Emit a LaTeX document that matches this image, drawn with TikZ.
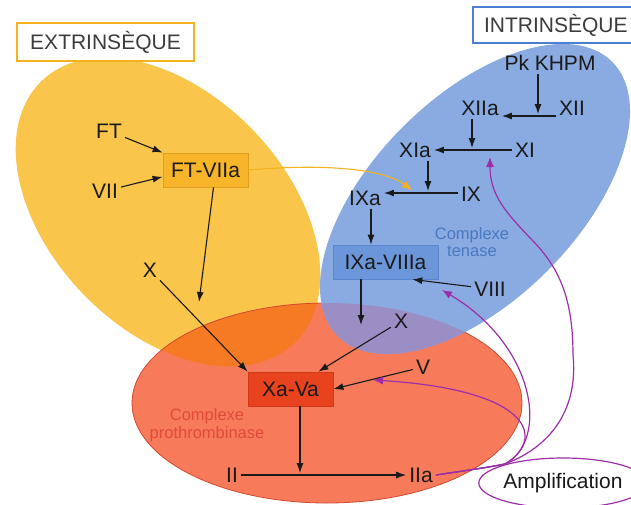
\documentclass[tikz,border=0pt]{standalone}
\usepackage{fontspec}
\setmainfont{Liberation Sans}
\usetikzlibrary{arrows.meta,shapes.geometric}

\definecolor{ylw}{HTML}{F9C54A}
\definecolor{redc}{HTML}{F77B5B}
\definecolor{orangeov}{HTML}{F67A24}
\definecolor{bluec}{HTML}{8AABE1}
\definecolor{purpov}{HTML}{9A8EC4}
\definecolor{redborder}{HTML}{D04A30}
\definecolor{ftfill}{HTML}{F8B52A}
\definecolor{ftdraw}{HTML}{E09E1E}
\definecolor{xafill}{HTML}{E8421F}
\definecolor{xadraw}{HTML}{D03818}
\definecolor{ixfill}{HTML}{6C96DA}
\definecolor{ixdraw}{HTML}{5A86D0}
\definecolor{tenasec}{HTML}{4A78C0}
\definecolor{prothc}{HTML}{E04A3A}
\definecolor{purparr}{HTML}{9C2FA8}
\definecolor{yarrc}{HTML}{F2B21E}
\definecolor{extrc}{HTML}{F6B21C}
\definecolor{intrc}{HTML}{4A7FD4}
\definecolor{ink}{HTML}{1A1A1A}

\begin{document}
\begin{tikzpicture}[x=1pt,y=-1pt,
  lbl/.style={font=\fontsize{21}{25}\selectfont, text=ink, inner sep=3pt},
  small/.style={font=\fontsize{16.5}{17.5}\selectfont, align=center, inner sep=0pt},
  cbox/.style={lbl, minimum height=34pt, inner sep=0pt, line width=0.8pt},
  arr/.style={draw=ink, line width=1.1pt, -{Latex[length=10pt,width=7pt]}},
  yarr/.style={draw=yarrc, line width=1.1pt, -{Latex[length=10pt,width=8pt]}},
  parr/.style={draw=purparr, line width=1.2pt, -{Latex[length=10pt,width=8pt]}},
  title/.style={font=\fontsize{21}{25}\selectfont, text=ink!85, fill=white, line width=2.5pt, inner sep=0pt}
]
\useasboundingbox (0,0) rectangle (631,504);
\clip (0,0) rectangle (631,504);
\fill[white] (0,0) rectangle (631,504);

% extrinsic pathway area
\fill[ylw, rotate around={-46:(168,212)}] (168,212) ellipse [x radius=182, y radius=118];
% prothrombinase area
\fill[redc] (327,403) ellipse [x radius=195, y radius=100];
\begin{scope}
  \clip (327,403) ellipse [x radius=195, y radius=100];
  \fill[orangeov, rotate around={-46:(168,212)}] (168,212) ellipse [x radius=182, y radius=118];
\end{scope}
\draw[redborder, line width=0.8pt] (327,403) ellipse [x radius=195, y radius=100];
% intrinsic pathway area
\fill[bluec, rotate around={45:(475,199)}] (475,199) ellipse [x radius=194, y radius=102];
\begin{scope}
  \clip (327,403) ellipse [x radius=195, y radius=100];
  \fill[purpov, rotate around={45:(475,199)}] (475,199) ellipse [x radius=194, y radius=102];
\end{scope}

% titles
\node[title, draw=extrc, minimum width=177pt, minimum height=38pt] (extr) at (105.5,42) {EXTRINSÈQUE};
\node[title, draw=intrc, minimum width=180pt, minimum height=36pt, text width=180pt, align=left] (intr) at (563,25) {\hspace*{11pt}INTRINSÈQUE};

% extrinsic factors
\node[lbl] (FT) at (109,131) {FT};
\node[lbl] (VII) at (105,191) {VII};
\node[cbox, fill=ftfill, draw=ftdraw, minimum width=85pt] (ftviia) at (205.5,170) {FT-VIIa};
\node[lbl] (Xl) at (150,270) {X};

% common pathway
\node[cbox, fill=xafill, draw=xadraw, minimum width=85pt] (xava) at (290.5,389) {Xa-Va};
\node[lbl] (II) at (232,475) {II};
\node[lbl] (IIa) at (421,475) {IIa};
\node[lbl] (Xr) at (401,321) {X};
\node[lbl] (V) at (423,367) {V};
\node[small, text=prothc] (cpro) at (207,425) {Complexe\\prothrombinase};

% intrinsic factors
\node[cbox, fill=ixfill, draw=ixdraw, minimum width=105pt] (ixviii) at (385.5,262) {IXa-VIIIa};
\node[lbl] (VIII) at (490,289) {VIII};
\node[lbl] (IXa) at (365,198) {IXa};
\node[lbl] (IX) at (471,194) {IX};
\node[lbl] (XIa) at (415,150) {XIa};
\node[lbl] (XI) at (525,150) {XI};
\node[lbl] (XIIa) at (480,108) {XIIa};
\node[lbl] (XII) at (572,108) {XII};
\node[lbl] (pk) at (550,63) {Pk KHPM};
\node[small, text=tenasec] (cten) at (472,242) {Complexe\\tenase};

% amplification loop
\node[ellipse, draw=purparr, line width=1.2pt, minimum width=154pt, minimum height=50pt, inner sep=0pt,
      font=\fontsize{21}{25}\selectfont, text=ink] (ampl) at (563,483) {Amplification};

% coordinates where reactions are hit
\coordinate (c1) at (199,302);
\coordinate (c2) at (300,473);
\coordinate (c3) at (361,325);
\coordinate (j1) at (538,114);
\coordinate (j2) at (472,148);
\coordinate (j3) at (428,191);
\coordinate (y1) at (412,190);
\coordinate (hub) at (505,464);
\coordinate (pV) at (373,380);
\coordinate (pVIII) at (442,290);
\coordinate (pXI) at (490,157);

% extrinsic arrows
\draw[arr] (FT) -- (ftviia.north west);
\draw[arr] (VII) -- (ftviia.189);
\draw[arr] ([xshift=8pt]ftviia.south) -- (c1);
\draw[arr] (Xl) -- (xava.north west);

% common arrows
\draw[arr] ([xshift=9.5pt]xava.south) -- (c2);
\draw[arr] (II) -- (IIa);
\draw[arr] (Xr) -- (xava.32);
\draw[arr] (V) -- (xava.east);

% intrinsic arrows
\draw[arr] (ixviii.south -| c3) -- (c3);
\draw[arr] (VIII) -- (ixviii.-33);
\draw[arr] ([xshift=6pt]IXa.south) -- ([xshift=6pt]IXa.south |- ixviii.north);
\draw[arr] (pk.south -| j1) -- (j1);
\draw[arr] ([yshift=-8pt]XII.west) -- ([yshift=-8pt]XII.west -| XIIa.east);
\draw[arr] (XIIa.south -| j2) -- (j2);
\draw[arr] (XI) -- (XIa);
\draw[arr] (XIa.south -| j3) -- (j3);
\draw[arr] ([yshift=1pt]IX.west) -- ([yshift=1pt]IX.west -| IXa.east);

% FT-VIIa activates IX
\draw[yarr] (ftviia.east) .. controls (330,163) and (385,170) .. (y1);

% thrombin feedback
\draw[parr] (IIa.east) .. controls (470,470) and (490,467) .. (hub)
  .. controls (545,440) and (535,390) .. (pV);
\draw[parr] (IIa.east) .. controls (470,470) and (490,467) .. (hub)
  .. controls (550,440) and (535,345) .. (pVIII);
\draw[parr] (IIa.east) .. controls (470,470) and (490,467) .. (hub)
  .. controls (555,445) and (578,405) .. (573,355)
  .. controls (573,300) and (560,270) .. (535,243)
  .. controls (505,212) and (490,195) .. (pXI);
\end{tikzpicture}
\end{document}
